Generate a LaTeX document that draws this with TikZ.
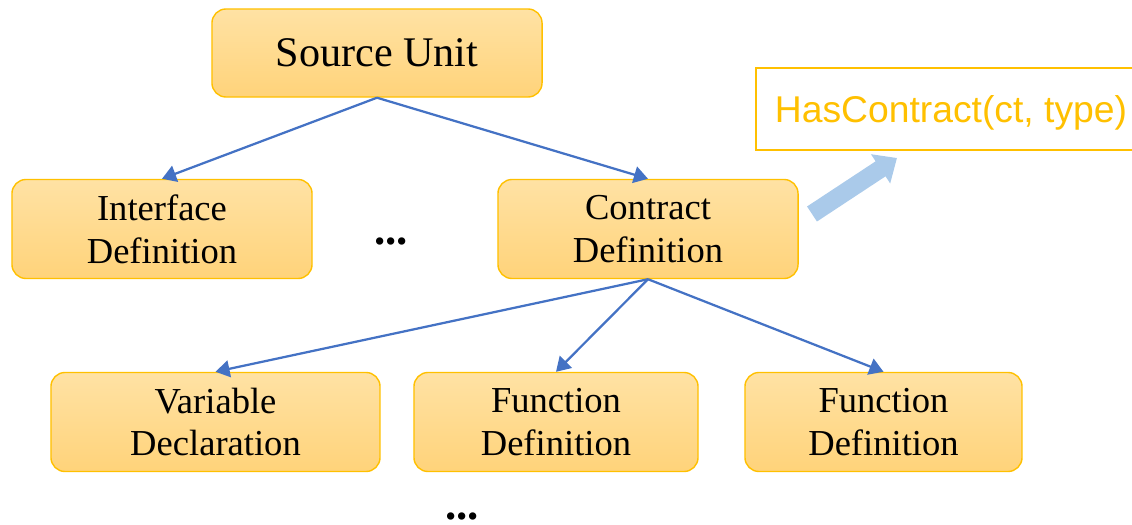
\documentclass[tikz,border=0pt]{standalone}
\usepackage{fontspec}
\setmainfont{Liberation Serif}
\newfontfamily\arialfont{Liberation Sans}
\usetikzlibrary{arrows.meta}

\definecolor{boxtop}{RGB}{255,226,164}
\definecolor{boxbot}{RGB}{255,211,122}
\definecolor{boxline}{RGB}{255,192,0}
\definecolor{edgeblue}{RGB}{68,114,196}
\definecolor{hintblue}{RGB}{170,202,234}

\begin{document}
\begin{tikzpicture}[x=0.025cm,y=-0.025cm,
    astnode/.style={draw=boxline, line width=1pt, rounded corners=10pt,
        top color=boxtop, bottom color=boxbot, align=center, text=black,
        font=\fontsize{26}{30.5}\selectfont, minimum height=2.475cm, inner sep=0pt},
    edge/.style={draw=edgeblue, line width=1.6pt, -{Triangle[length=10pt,width=12pt]}},
    hcbox/.style={draw=boxline, line width=1.4pt, fill=white, text=boxline, text depth=0pt,
        font=\arialfont\fontsize{26.5}{30}\selectfont, minimum height=2.05cm, inner sep=0pt},
    gap/.style={font=\bfseries\fontsize{32}{36}\selectfont, inner sep=0pt}]
    \useasboundingbox (0,0) rectangle (1132,525);

    % root
    \node[astnode, minimum width=8.25cm, minimum height=2.2cm,
        font=\fontsize{30}{34}\selectfont, text depth=0pt] (su) at (377,53) {Source Unit};

    % second level
    \node[astnode, minimum width=7.5cm] (idef) at (162,229) {Interface\\Definition};
    \node[astnode, minimum width=7.5cm] (cdef) at (648,229) {Contract\\Definition};
    \node[gap] (dots1) at (391,241) {...};

    % contract members
    \node[astnode, minimum width=8.225cm] (vdec) at (215.5,422) {Variable\\Declaration};
    \node[astnode, minimum width=7.1cm] (fdef1) at (556,422) {Function\\Definition};
    \node[astnode, minimum width=6.925cm] (fdef2) at (883.5,422) {Function\\Definition};
    \node[gap] (dots2) at (462,516) {...};

    % fact
    \node[hcbox, minimum width=9.75cm] (hc) at (951,109) {HasContract(ct, type)};

    \foreach \T in {idef,cdef}
        \draw[edge] (su.south) -- (\T.north);
    \foreach \T in {vdec,fdef1,fdef2}
        \draw[edge] (cdef.south) -- (\T.north);

    \coordinate (ha) at (812,214);
    \coordinate (hb) at (897,158);
    \draw[hintblue, line width=12.8pt, -{Triangle[length=14pt,width=24pt]}] (ha) -- (hb);
\end{tikzpicture}
\end{document}
